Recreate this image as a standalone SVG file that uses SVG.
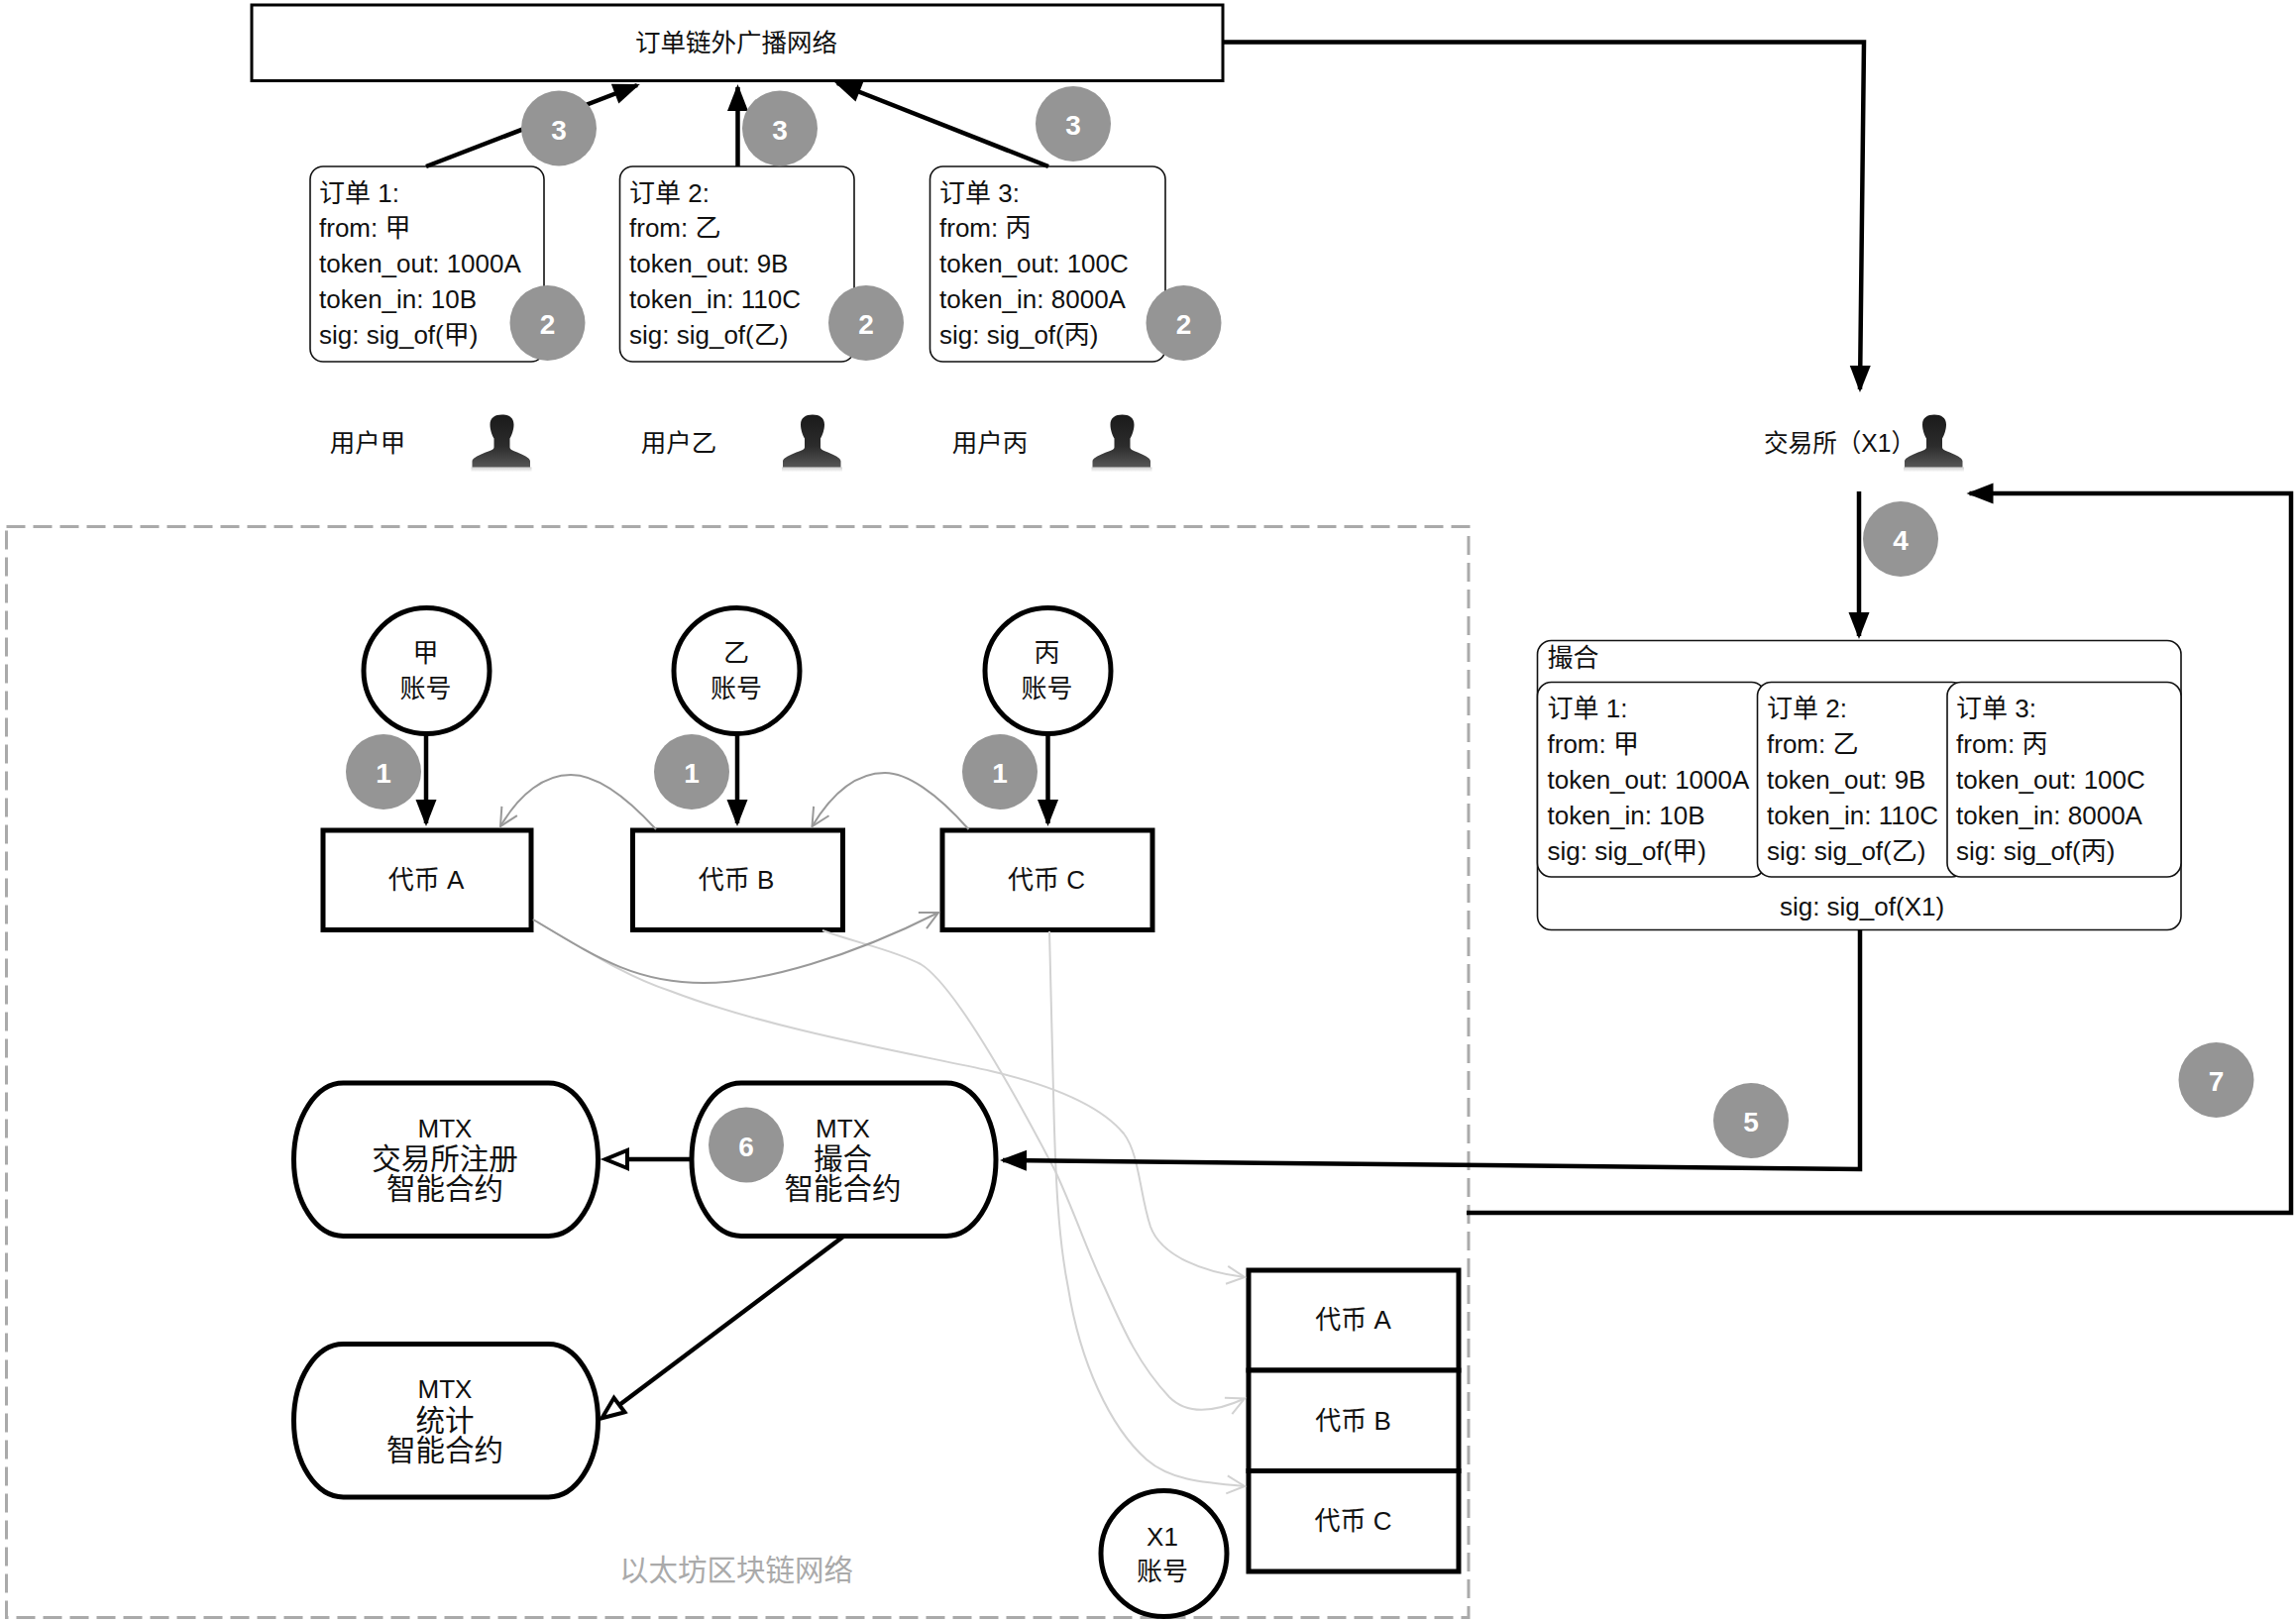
<svg xmlns="http://www.w3.org/2000/svg" width="2317" height="1636" viewBox="0 0 2317 1636">
<style>
text{font-family:"Liberation Sans","Noto Sans CJK SC",sans-serif;fill:#111}
.t26{font-size:26px}
.t25{font-size:25.5px}
.mid{text-anchor:middle}
.t30{font-size:29.5px}
.mtx{font-size:26px}
.eth{font-size:29.5px;fill:#aaa}
.card{fill:#fff;stroke:#111;stroke-width:1.6}
.bold{fill:#fff;stroke:#000;stroke-width:5}
.plain{fill:#fff;stroke:#000;stroke-width:3}
.badge circle{fill:#959595}
.badge text{font-size:28px;font-weight:bold;fill:#fff;text-anchor:middle}
.conn{fill:none;stroke:#000;stroke-width:4.5}
.grey{fill:none;stroke:#999;stroke-width:2}
.light{fill:none;stroke:#d2d2d2;stroke-width:2}
</style>
<defs>
<marker id="solid" markerUnits="userSpaceOnUse" markerWidth="30" markerHeight="24" refX="24" refY="11" orient="auto" overflow="visible"><path d="M0,0.5 L27,11 L0,21.5 Z" fill="#000"/></marker>
<marker id="hollow" markerUnits="userSpaceOnUse" markerWidth="32" markerHeight="28" refX="2" refY="13" orient="auto" overflow="visible"><path d="M2,4 L24,13 L2,22 Z" fill="#fff" stroke="#000" stroke-width="4"/></marker>
<marker id="openGrey" markerUnits="userSpaceOnUse" markerWidth="22" markerHeight="20" refX="19" refY="10" orient="auto" overflow="visible"><path d="M1,1 L19,10 L1,19" fill="none" stroke="#999" stroke-width="2"/></marker>
<marker id="openLight" markerUnits="userSpaceOnUse" markerWidth="22" markerHeight="20" refX="19" refY="10" orient="auto" overflow="visible"><path d="M1,1 L19,10 L1,19" fill="none" stroke="#d2d2d2" stroke-width="2"/></marker>
<linearGradient id="bust" x1="0" y1="0" x2="0" y2="1"><stop offset="0" stop-color="#1a1a1a"/><stop offset="0.6" stop-color="#2c2c2c"/><stop offset="1" stop-color="#565656"/></linearGradient>
<linearGradient id="shade" x1="0" y1="0" x2="0" y2="1"><stop offset="0" stop-color="#d0d0d0"/><stop offset="1" stop-color="#fff"/></linearGradient>
<g id="person">
<rect x="-1" y="53" width="61" height="5" fill="url(#shade)"/>
<path d="M30,0 C37,0 42,3 42,10 C42,15 40,21 38,24 L38,33 C38,36 44,37 50,40 C54,42 58.5,44 58.5,47 L58.5,53 L0,53 L0,47 C0,44 5,42 9,40 C15,37 22,36 22,33 L22,24 C20,21 18,15 18,10 C18,3 23,0 30,0 Z" fill="url(#bust)"/>
</g>
</defs>

<rect id="ethereum-frame" x="6.5" y="531.5" width="1475.5" height="1101" fill="none" stroke="#aaa" stroke-width="3" stroke-dasharray="19 8"/>

<g id="offchain"><rect x="254" y="5" width="980" height="76.5" class="plain"/><text class="t25 mid" x="743" y="52">订单链外广播网络</text></g>

<g id="order-1"><rect x="313" y="168" width="236" height="197" rx="13" class="card"/>
<text class="t26" x="322" y="204">订单 1:</text><text class="t26" x="322" y="239">from: 甲</text><text class="t26" x="322" y="275">token_out: 1000A</text><text class="t26" x="322" y="311">token_in: 10B</text><text class="t26" x="322" y="347">sig: sig_of(甲)</text></g>
<g id="order-2"><rect x="625.5" y="168" width="236.5" height="197" rx="13" class="card"/>
<text class="t26" x="635" y="204">订单 2:</text><text class="t26" x="635" y="239">from: 乙</text><text class="t26" x="635" y="275">token_out: 9B</text><text class="t26" x="635" y="311">token_in: 110C</text><text class="t26" x="635" y="347">sig: sig_of(乙)</text></g>
<g id="order-3"><rect x="938.5" y="168" width="237.5" height="197" rx="13" class="card"/>
<text class="t26" x="948" y="204">订单 3:</text><text class="t26" x="948" y="239">from: 丙</text><text class="t26" x="948" y="275">token_out: 100C</text><text class="t26" x="948" y="311">token_in: 8000A</text><text class="t26" x="948" y="347">sig: sig_of(丙)</text></g>

<g id="user-a"><text class="t25 mid" x="371" y="456">用户甲</text><use href="#person" x="476.5" y="418.5"/></g>
<g id="user-b"><text class="t25 mid" x="685" y="456">用户乙</text><use href="#person" x="790" y="418.5"/></g>
<g id="user-c"><text class="t25 mid" x="999" y="456">用户丙</text><use href="#person" x="1102.5" y="418.5"/></g>
<g id="exchange"><text class="t25" x="1780" y="456" textLength="153" lengthAdjust="spacingAndGlyphs">交易所（X1）</text><use href="#person" x="1922" y="418.5"/></g>

<g id="match"><rect x="1551.5" y="646.5" width="649.5" height="292" rx="14" class="card"/>
<text class="t26" x="1561.5" y="673">撮合</text>
<text class="t26 mid" x="1879" y="924">sig: sig_of(X1)</text></g>
<g id="match-order-1"><rect x="1551.5" y="688.5" width="230" height="196.5" rx="14" class="card"/>
<text class="t26" x="1561.5" y="724">订单 1:</text><text class="t26" x="1561.5" y="760">from: 甲</text><text class="t26" x="1561.5" y="796">token_out: 1000A</text><text class="t26" x="1561.5" y="832">token_in: 10B</text><text class="t26" x="1561.5" y="868">sig: sig_of(甲)</text></g>
<g id="match-order-2"><rect x="1773.5" y="688.5" width="210" height="196.5" rx="14" class="card"/>
<text class="t26" x="1783" y="724">订单 2:</text><text class="t26" x="1783" y="760">from: 乙</text><text class="t26" x="1783" y="796">token_out: 9B</text><text class="t26" x="1783" y="832">token_in: 110C</text><text class="t26" x="1783" y="868">sig: sig_of(乙)</text></g>
<g id="match-order-3"><rect x="1965" y="688.5" width="236" height="196.5" rx="14" class="card"/>
<text class="t26" x="1974" y="724">订单 3:</text><text class="t26" x="1974" y="760">from: 丙</text><text class="t26" x="1974" y="796">token_out: 100C</text><text class="t26" x="1974" y="832">token_in: 8000A</text><text class="t26" x="1974" y="868">sig: sig_of(丙)</text></g>

<g id="account-a"><circle cx="430.5" cy="677" r="63.5" class="bold"/><text class="t26 mid" x="429.5" y="668">甲</text><text class="t26 mid" x="429.5" y="704">账号</text></g>
<g id="account-b"><circle cx="743.5" cy="677" r="63.5" class="bold"/><text class="t26 mid" x="743" y="668">乙</text><text class="t26 mid" x="743" y="704">账号</text></g>
<g id="account-c"><circle cx="1057.5" cy="677" r="63.5" class="bold"/><text class="t26 mid" x="1056.5" y="668">丙</text><text class="t26 mid" x="1056.5" y="704">账号</text></g>
<g id="token-a"><rect x="326" y="838" width="210" height="100.5" class="bold"/><text class="t26 mid" x="430" y="897">代币 A</text></g>
<g id="token-b"><rect x="638.5" y="838" width="212" height="100.5" class="bold"/><text class="t26 mid" x="743" y="897">代币 B</text></g>
<g id="token-c"><rect x="951" y="838" width="212" height="100.5" class="bold"/><text class="t26 mid" x="1056" y="897">代币 C</text></g>

<g id="mtx-registry"><rect x="296.5" y="1093" width="307" height="154.5" rx="50" ry="77" class="bold"/><text class="mtx mid" x="449" y="1148">MTX</text><text class="t30 mid" x="449" y="1180">交易所注册</text><text class="t30 mid" x="449" y="1210">智能合约</text></g>
<g id="mtx-match"><rect x="698" y="1093" width="307" height="154.5" rx="50" ry="77" class="bold"/><text class="mtx mid" x="850.5" y="1148">MTX</text><text class="t30 mid" x="850.5" y="1180">撮合</text><text class="t30 mid" x="850.5" y="1210">智能合约</text></g>
<g id="mtx-stats"><rect x="296.5" y="1356.5" width="307" height="154.5" rx="50" ry="77" class="bold"/><text class="mtx mid" x="449" y="1411">MTX</text><text class="t30 mid" x="449" y="1444">统计</text><text class="t30 mid" x="449" y="1474">智能合约</text></g>

<g id="x1-token-a"><rect x="1260" y="1282" width="212" height="101" class="bold"/><text class="t26 mid" x="1365.5" y="1341">代币 A</text></g>
<g id="x1-token-b"><rect x="1260" y="1383" width="212" height="101.5" class="bold"/><text class="t26 mid" x="1365.5" y="1443">代币 B</text></g>
<g id="x1-token-c"><rect x="1260" y="1484.5" width="212" height="101.5" class="bold"/><text class="t26 mid" x="1365.5" y="1544">代币 C</text></g>
<g id="x1-account"><circle cx="1174.5" cy="1568" r="63.5" class="bold"/><text class="t26 mid" x="1173" y="1560">X1</text><text class="t26 mid" x="1173" y="1595">账号</text></g>

<text id="ethereum-label" class="eth mid" x="743" y="1595">以太坊区块链网络</text>

<g id="connectors">
<path class="light" marker-end="url(#openLight)" d="M538,928 C590,958 630,985 676,1000 C780,1040 930,1065 1000,1081 C1060,1095 1110,1115 1134,1144 C1150,1165 1150,1205 1161,1238 C1172,1268 1215,1284 1256,1289"/>
<path class="light" marker-end="url(#openLight)" d="M830,939 C865,952 900,958 929,973 C965,995 1030,1115 1065,1182 C1085,1225 1098,1265 1115,1300 C1135,1345 1150,1378 1180,1410 C1197,1427 1222,1427 1256,1411.5"/>
<path class="light" marker-end="url(#openLight)" d="M1059,940 L1063,1102 C1065,1190 1068,1250 1078,1300 C1090,1375 1120,1440 1157,1473 C1180,1493 1210,1496 1256,1500"/>
<path class="grey" marker-end="url(#openGrey)" d="M662,837 C630,802 600,782 576,782 C550,782 525,800 505,834"/>
<path class="grey" marker-end="url(#openGrey)" d="M977.5,837 C945,800 915,780 893,780 C865,780 840,800 819.5,834"/>
<path class="grey" marker-end="url(#openGrey)" d="M538,928 C600,965 640,992 710,992 C770,992 860,965 947,921"/>
<path class="conn" marker-end="url(#solid)" d="M430,168 L643,86"/>
<path class="conn" marker-end="url(#solid)" d="M744.5,168 V88"/>
<path class="conn" marker-end="url(#solid)" d="M1058,168 L845,84"/>
<path class="conn" marker-end="url(#solid)" d="M1234,42.5 H1881 L1877,393"/>
<path class="conn" marker-end="url(#solid)" d="M1876,496 V642"/>
<path class="conn" marker-end="url(#solid)" d="M1877,938 V1180 L1012,1171"/>
<path class="conn" marker-end="url(#solid)" d="M1480,1224 H2312 V498 H1987.5"/>
<path class="conn" marker-end="url(#solid)" d="M430,740 V831"/>
<path class="conn" marker-end="url(#solid)" d="M744,740 V831"/>
<path class="conn" marker-end="url(#solid)" d="M1057.5,740 V831"/>
<path class="conn" marker-end="url(#hollow)" d="M698,1170 H633"/>
<path class="conn" marker-end="url(#hollow)" d="M851,1248 L625,1418"/>
</g>

<g id="badge-1a" class="badge"><circle cx="387" cy="779" r="38"/><text x="387" y="790">1</text></g>
<g id="badge-1b" class="badge"><circle cx="698" cy="779" r="38"/><text x="698" y="790">1</text></g>
<g id="badge-1c" class="badge"><circle cx="1009" cy="779" r="38"/><text x="1009" y="790">1</text></g>
<g id="badge-2a" class="badge"><circle cx="552.5" cy="326" r="38"/><text x="552.5" y="337">2</text></g>
<g id="badge-2b" class="badge"><circle cx="874" cy="326" r="38"/><text x="874" y="337">2</text></g>
<g id="badge-2c" class="badge"><circle cx="1194.5" cy="326" r="38"/><text x="1194.5" y="337">2</text></g>
<g id="badge-3a" class="badge"><circle cx="564" cy="129.5" r="38"/><text x="564" y="140.5">3</text></g>
<g id="badge-3b" class="badge"><circle cx="787" cy="129.5" r="38"/><text x="787" y="140.5">3</text></g>
<g id="badge-3c" class="badge"><circle cx="1083" cy="125" r="38"/><text x="1083" y="136">3</text></g>
<g id="badge-4" class="badge"><circle cx="1918" cy="544" r="38"/><text x="1918" y="555">4</text></g>
<g id="badge-5" class="badge"><circle cx="1767" cy="1131" r="38"/><text x="1767" y="1142">5</text></g>
<g id="badge-6" class="badge"><circle cx="753" cy="1155.5" r="38"/><text x="753" y="1166.5">6</text></g>
<g id="badge-7" class="badge"><circle cx="2236.5" cy="1090" r="38"/><text x="2236.5" y="1101">7</text></g>
</svg>
